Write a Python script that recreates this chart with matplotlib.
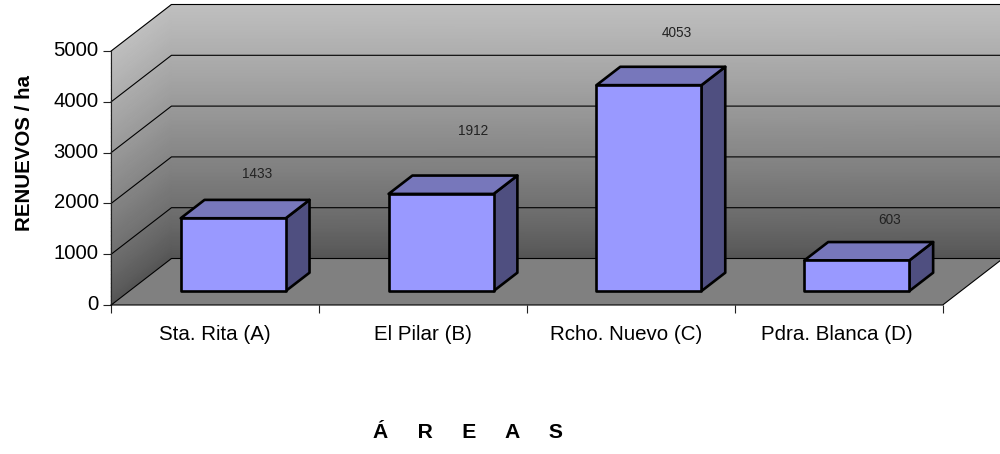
import numpy as np
import matplotlib
matplotlib.use("Agg")
import matplotlib.pyplot as plt
from matplotlib.patches import Polygon
from matplotlib.transforms import ScaledTranslation

plt.rcParams['font.family'] = ['Liberation Sans', 'DejaVu Sans']

areas = ["Sta. Rita (A)", "El Pilar (B)", "Rcho. Nuevo (C)", "Pdra. Blanca (D)"]
renuevos = [1433, 1912, 4053, 603]
y_ticks = [0, 1000, 2000, 3000, 4000, 5000]

# pixel offsets of the value labels from the front top edge of each bar
label_nudge = [(24, 44), (32, 63), (28, 52), (33, 40)]
# small horizontal shifts of the category names, in pixels
name_nudge = [0, 0, -5, -1.5]

Y_MAX = 5000
# oblique projection: one unit of depth moves this far in data units
DEPTH_X = 60.3 / 208.0
DEPTH_Y = 46.5 / 254.0 * Y_MAX
BAR_WIDTH = 0.505
BAR_D0, BAR_D1 = 0.30, 0.695

FACE = "#9999ff"
TOP = "#7777bb"
SIDE = "#4f4f80"
FLOOR = "#808080"
PX = 0.72  # points per pixel at 100 dpi


def proj(x, v, d):
    """Front-plane coordinates of a point at category x, value v, depth d (0-1)."""
    return (x + d * DEPTH_X, v + d * DEPTH_Y)


def wall_gradient(ax, x0, x1, d0, d1):
    # light at the top of the wall, dark at the floor
    v = np.linspace(0, Y_MAX, 60)
    shade = 0.33 + (0.75 - 0.33) * (v / Y_MAX) ** 0.85
    xs = np.array([proj(x0, 0, d0)[0], proj(x1, 0, d1)[0]])
    X = np.tile(xs, (len(v), 1))
    Y = np.column_stack([v + d0 * DEPTH_Y, v + d1 * DEPTH_Y])
    C = np.column_stack([shade, shade])
    ax.pcolormesh(X, Y, C, cmap="gray", vmin=0, vmax=1, shading="gouraud",
                  clip_on=False, zorder=1)


def draw_bar(ax, center, value):
    x0 = center - BAR_WIDTH / 2
    x1 = center + BAR_WIDTH / 2
    front = [proj(x0, 0, BAR_D0), proj(x1, 0, BAR_D0), proj(x1, value, BAR_D0), proj(x0, value, BAR_D0)]
    top = [proj(x0, value, BAR_D0), proj(x1, value, BAR_D0), proj(x1, value, BAR_D1), proj(x0, value, BAR_D1)]
    side = [proj(x1, 0, BAR_D0), proj(x1, 0, BAR_D1), proj(x1, value, BAR_D1), proj(x1, value, BAR_D0)]
    for pts, color in ((side, SIDE), (top, TOP), (front, FACE)):
        ax.add_patch(Polygon(pts, closed=True, facecolor=color, edgecolor="black",
                             linewidth=1.9, joinstyle="round", clip_on=False, zorder=5))


def plot():
    fig = plt.figure(figsize=(10, 4.54), dpi=100)
    ax = fig.add_axes([0.1112, (454 - 305) / 454, 0.8315, 254 / 454])
    n = len(areas)
    ax.set_xlim(0, n)
    ax.set_ylim(0, Y_MAX)
    for spine in ax.spines.values():
        spine.set_visible(False)

    # back wall and left wall
    wall_gradient(ax, 0, n, 1, 1)
    wall_gradient(ax, 0, 0, 0, 1)

    # floor
    floor = [proj(0, 0, 0), proj(n, 0, 0), proj(n, 0, 1), proj(0, 0, 1)]
    ax.add_patch(Polygon(floor, closed=True, facecolor=FLOOR, edgecolor="none",
                         clip_on=False, zorder=2))

    # gridlines run along the left wall and across the back wall
    for v in y_ticks:
        pts = [proj(0, v, 0), proj(0, v, 1), proj(n, v, 1)]
        ax.plot(*zip(*pts), color="black", lw=0.8, clip_on=False, zorder=3)
    ax.plot(*zip(proj(0, 0, 0), proj(0, Y_MAX, 0)), color="#222222", lw=0.8, clip_on=False, zorder=3)
    ax.plot(*zip(proj(0, 0, 0), proj(n, 0, 0), proj(n, 0, 1)),
            color="black", lw=0.8, clip_on=False, zorder=3)

    for i, value in enumerate(renuevos):
        draw_bar(ax, i + 0.5, value)
        dx, dy = label_nudge[i]
        ax.annotate(str(value), proj(i + 0.5, value, BAR_D0), xytext=(dx * PX, dy * PX),
                    textcoords="offset points", ha="center", va="center",
                    fontsize=9.8, color="#222222", zorder=6)

    ax.set_yticks(y_ticks)
    ax.set_yticklabels([str(t) for t in y_ticks], fontsize=14.6)
    ax.set_xticks(range(n + 1))
    ax.set_xticklabels([""] * (n + 1))
    ax.tick_params(axis="both", length=6, width=0.8, color="#222222")
    ax.tick_params(axis="y", pad=3)
    # digits sit slightly above their tick marks
    lift = ScaledTranslation(0, 2.5 / 100, fig.dpi_scale_trans)
    for label in ax.get_yticklabels():
        label.set_transform(label.get_transform() + lift)
    ax.set_facecolor("none")

    for i, name in enumerate(areas):
        ax.annotate(name, (i + 0.5, 0), xytext=(name_nudge[i] * PX, -29.5 * PX), textcoords="offset points",
                    ha="center", va="center", fontsize=14.8, color="black")

    fig.text(0.0245, (454 - 153) / 454, "RENUEVOS / ha", rotation=90, ha="center", va="center",
             fontsize=14.8, fontweight="bold")
    fig.text(0.468, (454 - 432) / 454, "Á     R     E     A     S", ha="center", va="center",
             fontsize=15.2, fontweight="bold")

    fig.savefig("out.png", dpi=100, facecolor="white")
    plt.close(fig)


if __name__ == "__main__":
    plot()
